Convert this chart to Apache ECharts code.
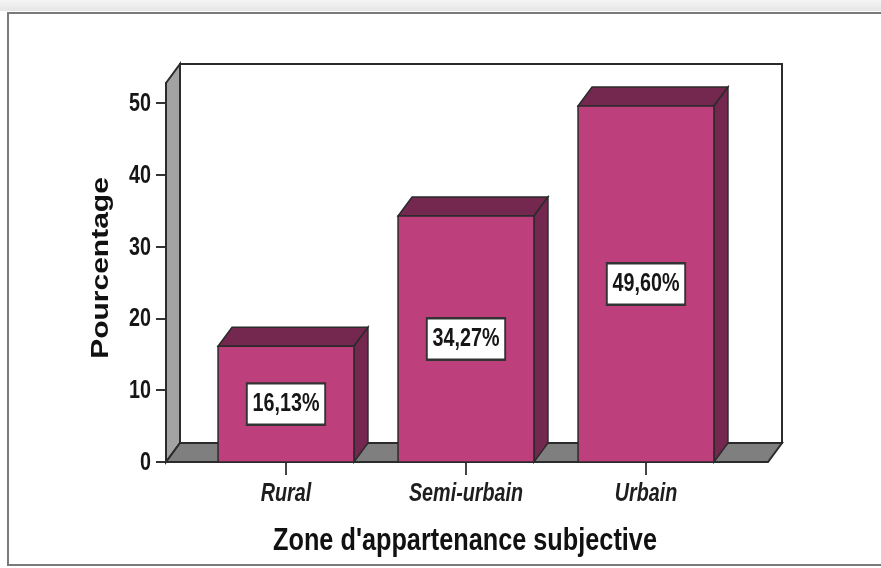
<!DOCTYPE html>
<html>
<head>
<meta charset="utf-8">
<script src="https://cdn.jsdelivr.net/npm/echarts@6/dist/echarts.min.js"></script>
<style>
  html, body { margin: 0; padding: 0; background: #fff; }
  #main { width: 881px; height: 568px; }
</style>
</head>
<body>
<div id="main"></div>
<script>
// Répartition par zone d'appartenance subjective (en %)
const categories = ['Rural', 'Semi-urbain', 'Urbain'];
const percentages = [16.13, 34.27, 49.60];
const yTicks = [0, 10, 20, 30, 40, 50];
const yMax = 52.8;
const xTitle = "Zone d'appartenance subjective";
const yTitle = 'Pourcentage';

const SANS = "'Liberation Sans',Arial,sans-serif";
const SQUEEZE = 0.79;                 // condensed lettering
const DEPTH_X = 14, DEPTH_Y = -19;    // pseudo-3D depth offset
const PAD_L = 30, PAD_R = 32;         // floor overhang beyond the category bands
const EDGE = '#2b2b2b';
const FRONT = '#bd3f7c';
const SHADE = '#74274f';
const INK = '#161616';

function fmt(v) {
  return v.toFixed(2).replace('.', ',') + '%';
}

// Back wall, left wall, floor and the value-axis numbers
function renderWalls(params, api) {
  const cs = params.coordSys;
  const x0 = cs.x - PAD_L, x1 = cs.x + cs.width + PAD_R;
  const yb = cs.y + cs.height, yt = cs.y;
  const dx = DEPTH_X, dy = DEPTH_Y;
  const children = [
    { type: 'polygon', shape: { points: [[x0 + dx, yt + dy], [x1 + dx, yt + dy], [x1 + dx, yb + dy], [x0 + dx, yb + dy]] },
      style: { fill: '#fff', stroke: EDGE, lineWidth: 2 } },
    { type: 'polygon', shape: { points: [[x0, yb], [x0, yt], [x0 + dx, yt + dy], [x0 + dx, yb + dy]] },
      style: { fill: '#a3a3a3', stroke: EDGE, lineWidth: 2 } },
    { type: 'polygon', shape: { points: [[x0, yb], [x0 + dx, yb + dy], [x1 + dx, yb + dy], [x1, yb]] },
      style: { fill: '#7f7f7f', stroke: EDGE, lineWidth: 2 } }
  ];
  yTicks.forEach(t => {
    const p = api.coord([0, t]);
    children.push({ type: 'text', x: x0 - 15, y: p[1] + 1, scaleX: SQUEEZE,
      style: { text: String(t), align: 'right', verticalAlign: 'middle',
        fontFamily: SANS, fontSize: 25, fontWeight: 'bold', fill: INK } });
  });
  return { type: 'group', children };
}

// One 3D bar: top, right side, front face, value box and category name
function renderBar(params, api) {
  const idx = api.value(0);
  const v = api.value(1);
  const base = api.coord([idx, 0]);
  const top = api.coord([idx, v]);
  const w = api.size([1, 0])[0] * 0.755;
  const l = base[0] - w / 2, r = base[0] + w / 2;
  const yb = base[1], yt = top[1];
  const dx = DEPTH_X, dy = DEPTH_Y;
  return {
    type: 'group',
    children: [
      { type: 'polygon', shape: { points: [[l, yt], [l + dx, yt + dy], [r + dx, yt + dy], [r, yt]] },
        style: { fill: SHADE, stroke: EDGE, lineWidth: 1.5 } },
      { type: 'polygon', shape: { points: [[r, yt], [r + dx, yt + dy], [r + dx, yb + dy], [r, yb]] },
        style: { fill: SHADE, stroke: EDGE, lineWidth: 1.5 } },
      { type: 'polygon', shape: { points: [[l, yt], [r, yt], [r, yb], [l, yb]] },
        style: { fill: FRONT, stroke: EDGE, lineWidth: 1.5 } },
      { type: 'text', x: base[0], y: (yt + yb) / 2, scaleX: SQUEEZE,
        style: { text: fmt(v), align: 'center', verticalAlign: 'middle',
          fontFamily: SANS, fontSize: 25, fontWeight: 'bold', fill: INK,
          backgroundColor: '#fff', borderColor: '#333', borderWidth: 2.4, padding: [8, 6, 6, 6] } },
      { type: 'text', x: base[0], y: yb + 32, scaleX: SQUEEZE,
        style: { text: categories[idx], align: 'center', verticalAlign: 'middle',
          fontFamily: SANS, fontSize: 25, fontWeight: 'bold', fontStyle: 'italic', fill: '#1e1e1e' } }
    ]
  };
}

const chart = echarts.init(document.getElementById('main'), null, { renderer: 'canvas' });

chart.setOption({
  animation: false,
  backgroundColor: '#fff',
  grid: { left: 196, right: 145, top: 83, bottom: 106 },
  xAxis: {
    type: 'category',
    data: categories,
    axisLine: { show: true, lineStyle: { color: EDGE, width: 2 } },
    axisTick: { show: true, alignWithLabel: true, length: 13, lineStyle: { color: '#444', width: 2 } },
    axisLabel: { show: false },
    splitLine: { show: false }
  },
  yAxis: {
    type: 'value',
    min: 0,
    max: yMax,
    offset: PAD_L,
    axisLine: { show: true, lineStyle: { color: EDGE, width: 2 } },
    axisTick: { show: true, customValues: yTicks, length: 10, lineStyle: { color: '#333', width: 2 } },
    axisLabel: { show: false },
    splitLine: { show: false }
  },
  graphic: [
    { type: 'rect', z: -10, shape: { x: 0, y: 0, width: 881, height: 11 },
      style: { fill: new echarts.graphic.LinearGradient(0, 0, 0, 1, [{ offset: 0, color: '#f4f4f4' }, { offset: 1, color: '#e6e6e6' }]) } },
    { type: 'rect', z: -10, shape: { x: 8, y: 13, width: 900, height: 552 },
      style: { fill: 'none', stroke: '#7a7a7a', lineWidth: 2 } },
    { type: 'text', x: 101, y: 268, rotation: Math.PI / 2, scaleY: SQUEEZE,
      style: { text: yTitle, align: 'center', verticalAlign: 'middle',
        fontFamily: SANS, fontSize: 30, fontWeight: 'bold', fill: '#111' } },
    { type: 'text', x: 465, y: 541, scaleX: SQUEEZE,
      style: { text: xTitle, align: 'center', verticalAlign: 'middle',
        fontFamily: SANS, fontSize: 32, fontWeight: 'bold', fill: '#111' } }
  ],
  series: [
    { type: 'custom', name: 'cadre', data: [[0, 0]], renderItem: renderWalls, z: 1, silent: true },
    { type: 'custom', name: 'Pourcentage', data: percentages.map((v, i) => [i, v]),
      encode: { x: 0, y: 1 }, renderItem: renderBar, z: 2 }
  ]
});
</script>
</body>
</html>
